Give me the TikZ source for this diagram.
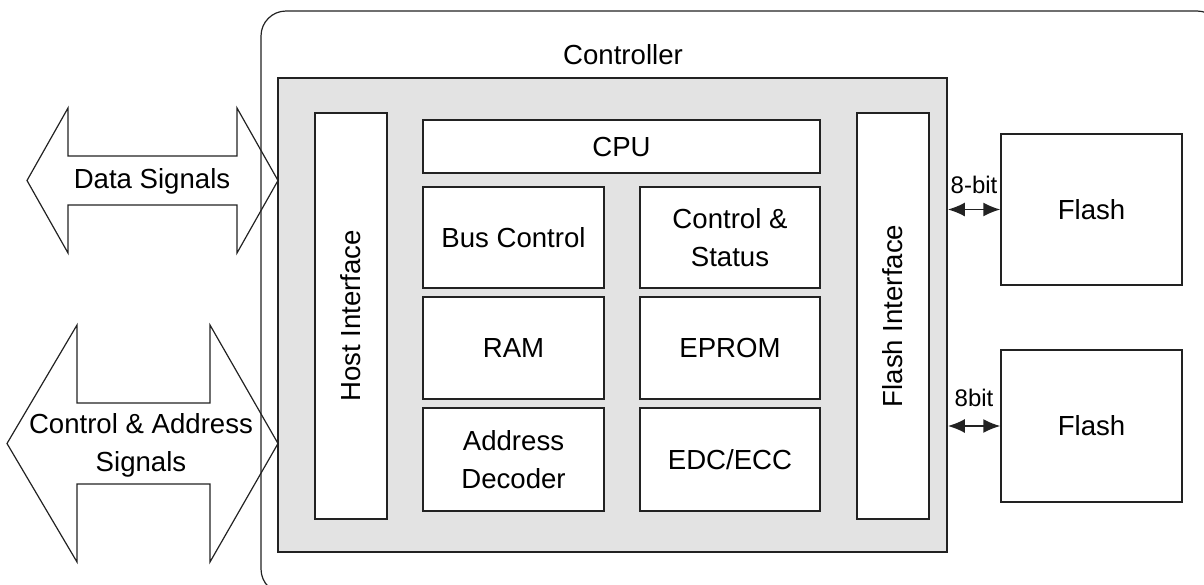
\documentclass[tikz,border=0pt]{standalone}
\usepackage{fontspec}
\setmainfont{Liberation Sans}
\usetikzlibrary{arrows.meta,fit}
\definecolor{panel}{HTML}{E3E3E3}
\definecolor{ln}{HTML}{222222}
\begin{document}
\begin{tikzpicture}[x=0.5pt,y=-0.5pt,
  box/.style={draw=ln, line width=0.75pt, fill=white, inner sep=0pt},
  lbl/.style={font=\fontsize{13.8}{19}\selectfont, align=center, inner sep=0pt},
  sm/.style={font=\fontsize{12}{14}\selectfont, inner sep=0pt},
  bigarrow/.style={draw=ln, line width=0.6pt},
  link/.style={draw=ln, line width=0.75pt, {Latex[length=8.5pt,width=7pt]}-{Latex[length=8.5pt,width=7pt]}}]
\useasboundingbox (0,0) rectangle (1204,584);
\begin{scope}
  \clip (0,0) rectangle (1204,584);
  \draw[ln, line width=0.6pt, rounded corners=12.5pt] (261,11) rectangle (1222,594);
\end{scope}
\node[lbl] (ctitle) at (623,55) {Controller};
\node[draw=ln, fill=panel, line width=0.9pt, inner sep=0pt, fit={(278,78)(947,552)}] (ctrl) {};

% big arrows
\draw[bigarrow] (27,180.5) -- (68,108) -- (68,156) -- (237,156) -- (237,108) -- (278,180.5)
  -- (237,253) -- (237,205) -- (68,205) -- (68,253) -- cycle;
\node[lbl] (data) at (152,181) {Data Signals};
\draw[bigarrow] (7,443.5) -- (77,325) -- (77,403) -- (210,403) -- (210,325) -- (278,443.5)
  -- (210,562) -- (210,484) -- (77,484) -- (77,562) -- cycle;
\node[lbl] (ctrlsig) at (141,445) {Control \& Address\\Signals};

% inner boxes
\node[box, fit={(315,113)(387,519)}] (host) {};
\node[lbl, rotate=90] (hostl) at (host.center) {Host Interface};
\node[box, fit={(857,113)(929,519)}] (fif) {};
\node[lbl, rotate=90] (fifl) at (fif.center) {Flash Interface};

\node[box, fit={(423,120)(820,173)}] (cpu) {};
\node[box, fit={(423,187)(604,288)}] (bus) {};
\node[box, fit={(640,187)(820,288)}] (cs) {};
\node[box, fit={(423,297)(604,399)}] (ram) {};
\node[box, fit={(640,297)(820,399)}] (eprom) {};
\node[box, fit={(423,408)(604,511)}] (addr) {};
\node[box, fit={(640,408)(820,511)}] (edc) {};
\node[lbl] (cpul) at (cpu.center) {CPU};
\node[lbl] (busl) at (bus.center) {Bus Control};
\node[lbl] (csl) at (cs.center) {Control \&\\Status};
\node[lbl] (raml) at (ram.center) {RAM};
\node[lbl] (epromb) at (eprom.center) {EPROM};
\node[lbl] (addrl) at (addr.center) {Address\\Decoder};
\node[lbl] (edcl) at (edc.center) {EDC/ECC};

% flash chips
\node[box, fit={(1001,134)(1182,285)}] (f1) {};
\node[box, fit={(1001,350)(1182,502)}] (f2) {};
\node[lbl] (f1l) at (f1.center) {Flash};
\node[lbl] (f2l) at (f2.center) {Flash};

\draw[link] (ctrl.east |- f1.west) -- (f1.west);
\draw[link] (ctrl.east |- f2.west) -- (f2.west);
\node[sm] (b1) at (974,185) {8-bit};
\node[sm] (b2) at (974,398) {8bit};
\end{tikzpicture}
\end{document}
